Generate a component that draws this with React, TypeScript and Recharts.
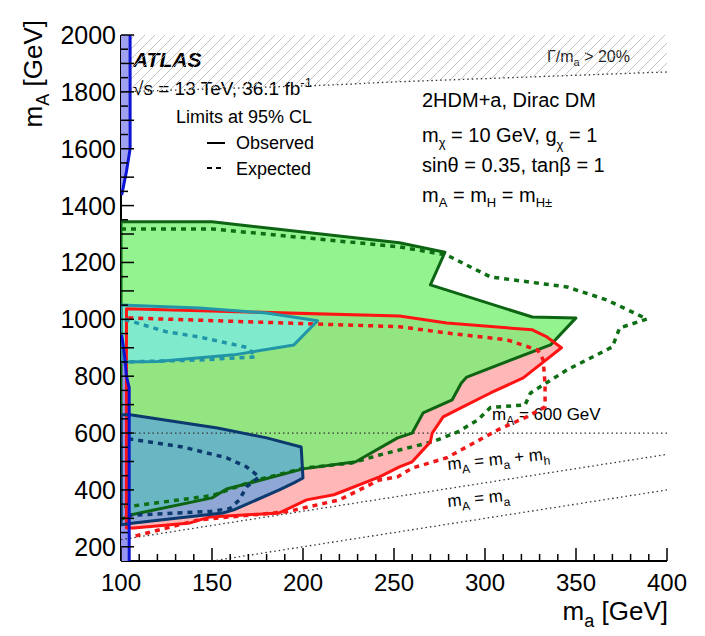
import React from 'react';
import { ScatterChart, Scatter, XAxis, YAxis } from 'recharts';

type Pt = [number, number];

const FONT = '"Liberation Sans", Arial, Helvetica, sans-serif';

// axis ticks
const xTickLabels = [100, 150, 200, 250, 300, 350, 400];
const yTickLabels = [200, 400, 600, 800, 1000, 1200, 1400, 1600, 1800, 2000];
const xTicks = Array.from({ length: 31 }, (_, i) => 100 + 10 * i);
const yTicks = Array.from({ length: 37 }, (_, i) => 200 + 50 * i);

// contours, points are [m_a, m_A] in GeV
const obsGreen: Pt[] = [
  [100, 1343], [150, 1343], [253, 1269], [278, 1236], [270, 1121], [326, 1008], [350, 1005],
  [336, 910], [290, 797], [287, 776], [282, 717], [266, 671], [260, 600], [252, 583],
  [229, 499], [200, 474], [173, 428], [158, 403], [150, 372], [105, 312], [100, 295],
];
const expGreen: Pt[] = [
  [100, 1318], [150, 1318], [253, 1255], [279, 1226], [303, 1149], [345, 1114], [367, 1068],
  [389, 1001], [374, 970], [370, 903], [345, 822], [325, 741], [322, 699], [303, 690],
  [296, 646], [285, 604], [271, 569], [242, 523], [227, 495], [200, 476], [173, 432],
  [150, 380], [107, 344], [100, 340],
];
const obsRed: Pt[] = [
  [103, 1037], [253, 1012], [279, 987], [326, 963], [334, 938], [342, 900], [321, 794],
  [303, 741], [290, 699], [277, 657], [271, 600], [270, 569], [260, 499], [253, 481],
  [242, 446], [217, 383], [202, 365], [187, 319], [149, 305], [138, 284], [107, 266], [103, 266],
];
const expRed: Pt[] = [
  [104, 1005], [253, 974], [279, 952], [312, 928], [329, 892], [332, 857], [333, 769],
  [333, 692], [323, 657], [307, 611], [297, 576], [279, 513], [260, 477], [252, 446],
  [242, 435], [220, 365], [191, 323], [143, 295], [109, 240], [105, 236],
];
const obsTeal: Pt[] = [
  [100, 1050], [143, 1040], [180, 1022], [208, 995], [195, 910], [162, 875], [120, 852], [100, 850],
];
const expTeal: Pt[] = [
  [102, 1000], [125, 956], [143, 938], [170, 900], [174, 868], [143, 857], [103, 850],
];
const obsNavy: Pt[] = [
  [100, 664], [105, 664], [153, 618], [180, 583], [199, 551], [200, 442], [195, 425],
  [187, 400], [162, 330], [156, 319], [107, 284], [100, 277],
];
const expNavy: Pt[] = [
  [104, 580], [134, 551], [158, 513], [169, 481], [176, 446], [169, 411], [165, 365],
  [160, 335], [150, 325], [120, 315], [104, 310],
];
const blueLow: Pt[] = [[104.5, 150], [104.5, 760], [103, 800], [102, 870], [100.4, 945]];
const blueHigh: Pt[] = [[100.4, 1437], [103, 1520], [105, 1600], [105, 2000]];
const widthLimit: Pt[] = [[100, 1800], [215, 1824], [250, 1835], [400, 1870]];
const line600: Pt[] = [[100, 600], [400, 600]];
const lineMaMh: Pt[] = [[100, 225], [400, 525]];
const lineMa: Pt[] = [[150, 150], [400, 400]];

const toXY = (pts: Pt[]) => pts.map(([x, y]) => ({ x, y }));
const pathOf = (pts: { x: number; y: number }[], close: boolean) =>
  pts.map((q, i) => `${i ? 'L' : 'M'}${q.x},${q.y}`).join(' ') + (close ? ' Z' : '');

type Look = {
  fill?: string;
  opacity?: number;
  stroke?: string;
  width?: number;
  dash?: string;
  closed?: boolean;
  pattern?: boolean;
};

const noShape = () => <g />;

function series(key: string, pts: Pt[], look: Look) {
  return (
    <Scatter
      key={key}
      name={key}
      data={toXY(pts)}
      isAnimationActive={false}
      shape={noShape}
      line={(lp: any) => (
        <g>
          {look.pattern && (
            <defs>
              <pattern id="hatch" patternUnits="userSpaceOnUse" width="10" height="10">
                <path d="M0,10 L10,0 M-2,2 L2,-2 M8,12 L12,8" stroke="#b4b4b4" strokeWidth={0.8} />
              </pattern>
            </defs>
          )}
          <path
            d={pathOf(lp.points, !!look.closed)}
            fill={look.pattern ? 'url(#hatch)' : look.fill ?? 'none'}
            fillOpacity={look.opacity ?? 1}
            stroke={look.stroke ?? 'none'}
            strokeWidth={look.width ?? 0}
            strokeDasharray={look.dash}
            strokeLinejoin="round"
          />
        </g>
      )}
    />
  );
}

const LeftTick = (p: any) => {
  const v = p.payload.value;
  return (
    <g>
      <line x1={p.x} x2={p.x + (v % 100 === 0 ? 13 : 7)} y1={p.y} y2={p.y} stroke="#000" strokeWidth={1.5} />
      {yTickLabels.includes(v) && (
        <text x={p.x - 5} y={p.y + 9} textAnchor="end" fontSize={25} fontFamily={FONT} fill="#000">
          {v}
        </text>
      )}
    </g>
  );
};
const RightTick = (p: any) => {
  const v = p.payload.value;
  return <line x1={p.x} x2={p.x - (v % 100 === 0 ? 13 : 7)} y1={p.y} y2={p.y} stroke="#000" strokeWidth={1.5} />;
};
const BottomTick = (p: any) => {
  const v = p.payload.value;
  return (
    <g>
      <line x1={p.x} x2={p.x} y1={p.y} y2={p.y - (v % 50 === 0 ? 13 : 7)} stroke="#000" strokeWidth={1.5} />
      {xTickLabels.includes(v) && (
        <text x={p.x} y={p.y + 30} textAnchor="middle" fontSize={24} fontFamily={FONT} fill="#000">
          {v}
        </text>
      )}
    </g>
  );
};
const TopTick = (p: any) => {
  const v = p.payload.value;
  return <line x1={p.x} x2={p.x} y1={p.y} y2={p.y + (v % 50 === 0 ? 13 : 7)} stroke="#000" strokeWidth={1.5} />;
};

const axisLine = { stroke: '#000', strokeWidth: 2 };

export default function App() {
  return (
    <div style={{ position: 'absolute', left: 0, top: 0, background: '#fff' }}>
      <ScatterChart width={705} height={636} margin={{ top: 35, right: 38, bottom: 35, left: 61 }}>
        <XAxis dataKey="x" type="number" domain={[100, 400]} allowDataOverflow ticks={xTicks} interval={0}
          tickSize={0} tickMargin={0} tickLine={false} tick={BottomTick} axisLine={axisLine} height={40} />
        <XAxis xAxisId="top" orientation="top" dataKey="x" type="number" domain={[100, 400]} allowDataOverflow
          ticks={xTicks} interval={0} tickSize={0} tickMargin={0} tickLine={false} tick={TopTick}
          axisLine={axisLine} height={0} />
        <YAxis dataKey="y" type="number" domain={[150, 2000]} allowDataOverflow ticks={yTicks} interval={0}
          tickSize={0} tickMargin={0} tickLine={false} tick={LeftTick} axisLine={axisLine} width={60} />
        <YAxis yAxisId="right" orientation="right" dataKey="y" type="number" domain={[150, 2000]} allowDataOverflow
          ticks={yTicks} interval={0} tickSize={0} tickMargin={0} tickLine={false} tick={RightTick}
          axisLine={axisLine} width={0} />

        {series('hatchFill', [[100, 2000], [400, 2000], ...widthLimit.slice().reverse()], { pattern: true, closed: true })}
        {series('redFill', obsRed, { fill: 'rgb(255,183,183)', closed: true })}
        {series('greenFill', obsGreen, { fill: 'rgb(120,240,115)', opacity: 0.8, closed: true })}
        {series('tealFill', obsTeal, { fill: 'rgb(125,235,210)', opacity: 0.92, closed: true })}
        {series('navyFill', obsNavy, { fill: 'rgb(87,160,228)', opacity: 0.67, closed: true })}
        {series('blueFillLow', [[100, 150], ...blueLow, [100, 945]], { fill: 'rgb(150,150,240)', closed: true })}
        {series('blueFillHigh', [[100, 1437], ...blueHigh, [100, 2000]], { fill: 'rgb(160,160,240)', closed: true })}

        {series('widthLimit', widthLimit, { stroke: '#333', width: 1.3, dash: '1.5 3' })}
        {series('line600', line600, { stroke: '#333', width: 1.3, dash: '1.5 3' })}
        {series('lineMaMh', lineMaMh, { stroke: '#333', width: 1.3, dash: '1.5 3' })}
        {series('lineMa', lineMa, { stroke: '#333', width: 1.3, dash: '1.5 3' })}

        {series('expGreen', expGreen, { stroke: '#0d6e14', width: 3.5, dash: '5 5' })}
        {series('obsGreen', obsGreen, { stroke: '#0d6412', width: 3, closed: true })}
        {series('expRed', expRed, { stroke: '#f01818', width: 3.5, dash: '5 5' })}
        {series('obsRed', obsRed, { stroke: '#ff1414', width: 3, closed: true })}
        {series('expTeal', expTeal, { stroke: '#2196a8', width: 3.5, dash: '5 5' })}
        {series('obsTeal', obsTeal, { stroke: '#2196a8', width: 3, closed: true })}
        {series('expNavy', expNavy, { stroke: '#0d3a6e', width: 3.5, dash: '5 5' })}
        {series('obsNavy', obsNavy, { stroke: '#0d3a6e', width: 3, closed: true })}
        {series('blueLow', blueLow, { stroke: '#0a14d2', width: 3 })}
        {series('blueHigh', blueHigh, { stroke: '#0a14d2', width: 3 })}

        <g fontFamily={FONT} fill="#000">
          <text x={133} y={67} fontSize={21} fontWeight="bold" fontStyle="italic">ATLAS</text>
          <text x={133} y={95} fontSize={19}>
            √s = 13 TeV, 36.1 fb<tspan fontSize={13} dy={-8}>-1</tspan>
          </text>
          <text x={176} y={123} fontSize={18}>Limits at 95% CL</text>
          <line x1={207} x2={225} y1={143} y2={143} stroke="#000" strokeWidth={2} />
          <text x={236} y={149} fontSize={18}>Observed</text>
          <line x1={207} x2={225} y1={168} y2={168} stroke="#000" strokeWidth={2} strokeDasharray="5 4" />
          <text x={236} y={175} fontSize={18}>Expected</text>

          <text x={547} y={62} fontSize={16} fill="#222">
            Γ/m<tspan fontSize={11} dy={4}>a</tspan><tspan dy={-4}> &gt; 20%</tspan>
          </text>
          <text x={422} y={107} fontSize={20}>2HDM+a, Dirac DM</text>
          <text x={422} y={142} fontSize={20}>
            m<tspan fontSize={13} dy={5}>χ</tspan><tspan dy={-5}> = 10 GeV, g</tspan>
            <tspan fontSize={13} dy={7}>χ</tspan><tspan dy={-7}> = 1</tspan>
          </text>
          <text x={422} y={172} fontSize={20}>sinθ = 0.35, tanβ = 1</text>
          <text x={422} y={202} fontSize={20}>
            m<tspan fontSize={13} dy={5}>A</tspan><tspan dy={-5}> = m</tspan>
            <tspan fontSize={13} dy={5}>H</tspan><tspan dy={-5}> = m</tspan>
            <tspan fontSize={13} dy={5}>H±</tspan>
          </text>

          <text x={492} y={420} fontSize={17}>
            m<tspan fontSize={12} dy={5}>A</tspan><tspan dy={-5}> = 600 GeV</tspan>
          </text>
          <text x={448} y={470} fontSize={17} transform="rotate(-6 448 470)">
            m<tspan fontSize={12} dy={5}>A</tspan><tspan dy={-5}> = m</tspan>
            <tspan fontSize={12} dy={5}>a</tspan><tspan dy={-5}> + m</tspan>
            <tspan fontSize={12} dy={5}>h</tspan>
          </text>
          <text x={448} y={507} fontSize={17} transform="rotate(-6 448 507)">
            m<tspan fontSize={12} dy={5}>A</tspan><tspan dy={-5}> = m</tspan>
            <tspan fontSize={12} dy={5}>a</tspan>
          </text>

          <text transform="rotate(-90)" x={-20} y={42} fontSize={26} textAnchor="end">
            m<tspan fontSize={18} dy={7}>A</tspan><tspan dy={-7}> [GeV]</tspan>
          </text>
          <text x={668} y={620} fontSize={26} textAnchor="end">
            m<tspan fontSize={18} dy={7}>a</tspan><tspan dy={-7}> [GeV]</tspan>
          </text>
        </g>
      </ScatterChart>
    </div>
  );
}
